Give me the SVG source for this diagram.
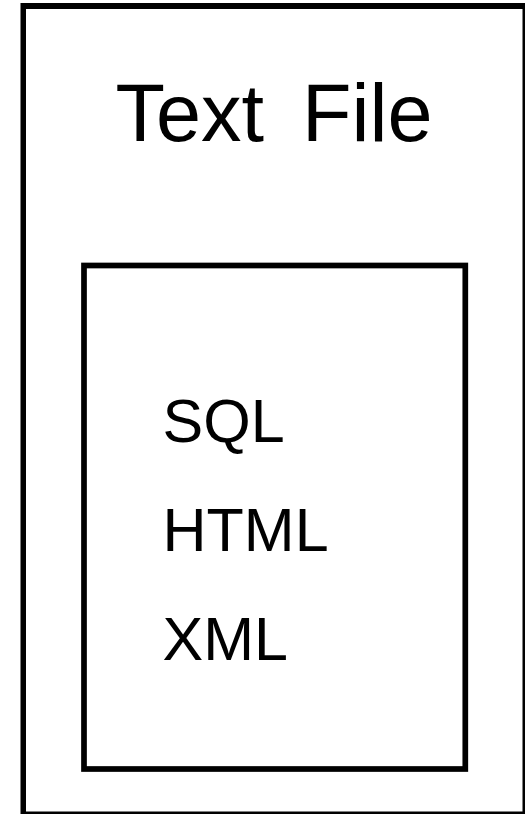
<svg xmlns="http://www.w3.org/2000/svg" width="526" height="814" viewBox="0 0 526 814">
<style>
text{font-family:"Liberation Sans",Arial,sans-serif;fill:#000}
.title{font-size:81px}
.item{font-size:61px}
.box{fill:none;stroke:#000;stroke-width:5.7}
</style>
<rect width="526" height="814" fill="#fff"/>
<g id="text-file">
<path d="M20.5 3H525V816H20.5Z M26 9V811.5H522.5V9Z" fill="#000" fill-rule="evenodd"/>
<text class="title" y="140.7"><tspan x="115.5">Text</tspan> <tspan x="302">File</tspan></text>
</g>
<g id="formats">
<rect class="box" x="84" y="265.5" width="381.3" height="503.5"/>
<text class="item" x="162.5" y="442">SQL</text>
<text class="item" x="162.5" y="551">HTML</text>
<text class="item" x="162.5" y="660">XML</text>
</g>
<g id="connectors"></g>
</svg>
